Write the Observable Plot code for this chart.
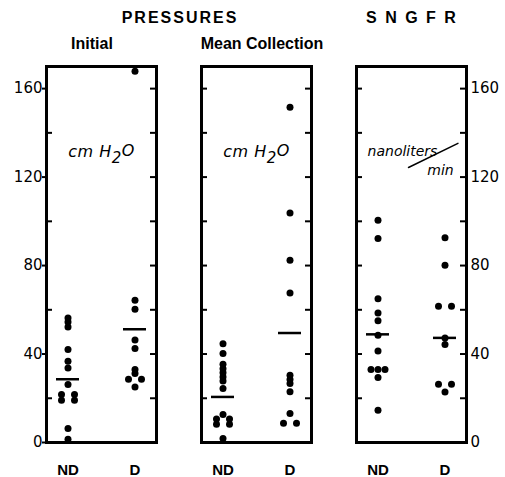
<!DOCTYPE html>
<html><head><meta charset="utf-8">
<script src="https://cdn.jsdelivr.net/npm/d3@7"></script>
<script src="https://cdn.jsdelivr.net/npm/@observablehq/plot@0.6"></script>
<style>
body{margin:0;background:#fff;}
#wrap{position:relative;width:505px;height:477px;overflow:hidden;}
#head{position:relative;height:60px;font-family:"Liberation Sans",Arial,sans-serif;font-weight:bold;color:#000;}
#head div{position:absolute;transform:translateX(-50%);white-space:nowrap;font-size:16px;line-height:16px;}
#chart svg{display:block;}
</style></head><body>
<div id="wrap">
  <div id="head">
    <div style="left:180px;top:10px;letter-spacing:2px;">PRESSURES</div>
    <div style="left:412px;top:10px;letter-spacing:2px;">S N G F R</div>
    <div style="left:92px;top:36px;">Initial</div>
    <div style="left:262px;top:36px;">Mean Collection</div>
  </div>
  <div id="chart"></div>
</div>
<script>
// ---- data ----
const panels = ["Initial", "Mean Collection", "SNGFR"];
const groups = ["ND", "D"];
const initialND = [56.3, 54.5, 52.2, 42.0, 36.7, 33.7, 26.2, 21.7, 21.7, 19.1, 19.1, 6.3, 1.5];
const initialD = [167.8, 64.3, 60.2, 46.3, 42.5, 33.0, 31.2, 28.6, 28.6, 25.1];
const collectionND = [44.7, 40.2, 35.4, 33.4, 31.5, 29.6, 27.8, 24.4, 12.7, 10.6, 10.6, 8.3, 8.3, 1.8];
const collectionD = [151.6, 103.8, 82.4, 67.6, 30.4, 28.5, 26.7, 22.9, 13.1, 8.7, 8.7];
const sngfrND = [100.5, 92.2, 65.0, 58.6, 55.0, 48.5, 41.4, 33.0, 33.0, 33.0, 29.4, 14.6];
const sngfrD = [92.6, 80.1, 61.6, 61.6, 47.3, 44.3, 26.3, 26.3, 22.8];
const means = [28.6, 51.2, 20.6, 49.5, 48.9, 47.3]; // panel x group order
const yLabelTicks = [0, 40, 80, 120, 160];
const yMinorTicks = [20, 40, 60, 80, 100, 120, 140, 160];
const unitPanels = ["Initial", "Mean Collection"];
const unitText = "cm H\u2082O";
const sngfrUnitTop = "nanoliters";
const sngfrUnitBottom = "min";

// ---- build tables ----
const series = [
  [panels[0], "ND", initialND], [panels[0], "D", initialD],
  [panels[1], "ND", collectionND], [panels[1], "D", collectionD],
  [panels[2], "ND", sngfrND], [panels[2], "D", sngfrD]
];
const points = series.flatMap(([panel, group, values]) => {
  const counts = d3.rollup(values, v => v.length, d => d);
  const seen = new Map();
  return values.map(v => {
    const n = counts.get(v);
    const i = seen.get(v) ?? 0;
    seen.set(v, i + 1);
    const gap = n > 2 ? 7 : 13;
    return {panel, group, value: v, off: (i - (n - 1) / 2) * gap};
  });
});
const offsets = [...new Set(points.map(d => d.off))];
const meanRows = panels.flatMap((p, i) => groups.map((g, j) => ({panel: p, group: g, value: means[i * 2 + j]})));
const leftTicks = panels.flatMap((p, i) =>
  yMinorTicks.filter(t => i > 0 || !yLabelTicks.includes(t)).map(t => ({panel: p, v: t})));
const rightTicks = panels.flatMap(p => yMinorTicks.map(t => ({panel: p, v: t})));

const chart = Plot.plot({
  width: 505,
  height: 417,
  marginTop: 6,
  marginBottom: 35,
  marginLeft: 46,
  marginRight: 38,
  style: {background: "white", color: "black", fontFamily: "DejaVu Sans, sans-serif"},
  fx: {domain: panels, paddingInner: 0.29, paddingOuter: 0, axis: null},
  x: {type: "band", domain: groups, paddingInner: 0.662, paddingOuter: 0.147},
  y: {domain: [0, 170]},
  marks: [
    Plot.frame({stroke: "black", strokeWidth: 3}),
    Plot.tickY(leftTicks, {fx: "panel", y: "v", insetRight: 104, strokeWidth: 2, stroke: "black"}),
    Plot.tickY(rightTicks, {fx: "panel", y: "v", insetLeft: 104, strokeWidth: 2, stroke: "black"}),
    Plot.axisY(yLabelTicks, {anchor: "left", tickSize: 4, tickPadding: 0, label: null, fontSize: 15, fontFamily: "DejaVu Sans", strokeWidth: 2}),
    Plot.axisY(yLabelTicks, {anchor: "right", tickSize: 0, tickPadding: 4, label: null, fontSize: 15, fontFamily: "DejaVu Sans"}),
    Plot.axisX({tickSize: 0, tickPadding: 22, label: null, fontSize: 15, fontWeight: "bold", fontFamily: "Liberation Sans"}),
    ...offsets.map(o => Plot.dot(points.filter(d => d.off === o), {
      fx: "panel", x: "group", y: "value", r: 3.5, fill: "black", stroke: null, dx: o
    })),
    Plot.tickY(meanRows, {fx: "panel", x: "group", y: "value", strokeWidth: 2.5, stroke: "black"}),
    Plot.text(unitPanels, {fx: d => d, text: () => unitText, frameAnchor: "top", dy: 79,
      fontStyle: "italic", fontSize: 16, fontFamily: "DejaVu Sans", fill: "black"}),
    Plot.text([panels[2]], {fx: d => d, text: () => sngfrUnitTop, frameAnchor: "top", dx: -9, dy: 80,
      fontStyle: "italic", fontSize: 14, fontFamily: "DejaVu Sans", fill: "black"}),
    Plot.text([panels[2]], {fx: d => d, text: () => sngfrUnitBottom, frameAnchor: "top", dx: 29, dy: 99,
      fontStyle: "italic", fontSize: 14, fontFamily: "DejaVu Sans", fill: "black"}),
    Plot.vector([panels[2]], {fx: d => d, frameAnchor: "top-left", dx: 52, dy: 101, length: 55, rotate: 64,
      anchor: "start", stroke: "black", strokeWidth: 1.5,
      shape: {draw(context, l) { context.moveTo(0, 0); context.lineTo(0, -l); }}})
  ]
});
// render the subscript of H2O as a lowered, full-size digit like the original lettering
d3.select(chart).selectAll("text").filter(function () { return this.textContent === unitText; })
  .each(function () {
    const [pre, post] = unitText.split("\u2082");
    const t = d3.select(this).text(null).attr("letter-spacing", "0.5px");
    t.append("tspan").text(pre);
    t.append("tspan").attr("dy", "0.38em").attr("font-size", "15px").text("2");
    t.append("tspan").attr("dy", "-0.38em").text(post);
  });
document.getElementById("chart").appendChild(chart);
</script>
</body></html>
